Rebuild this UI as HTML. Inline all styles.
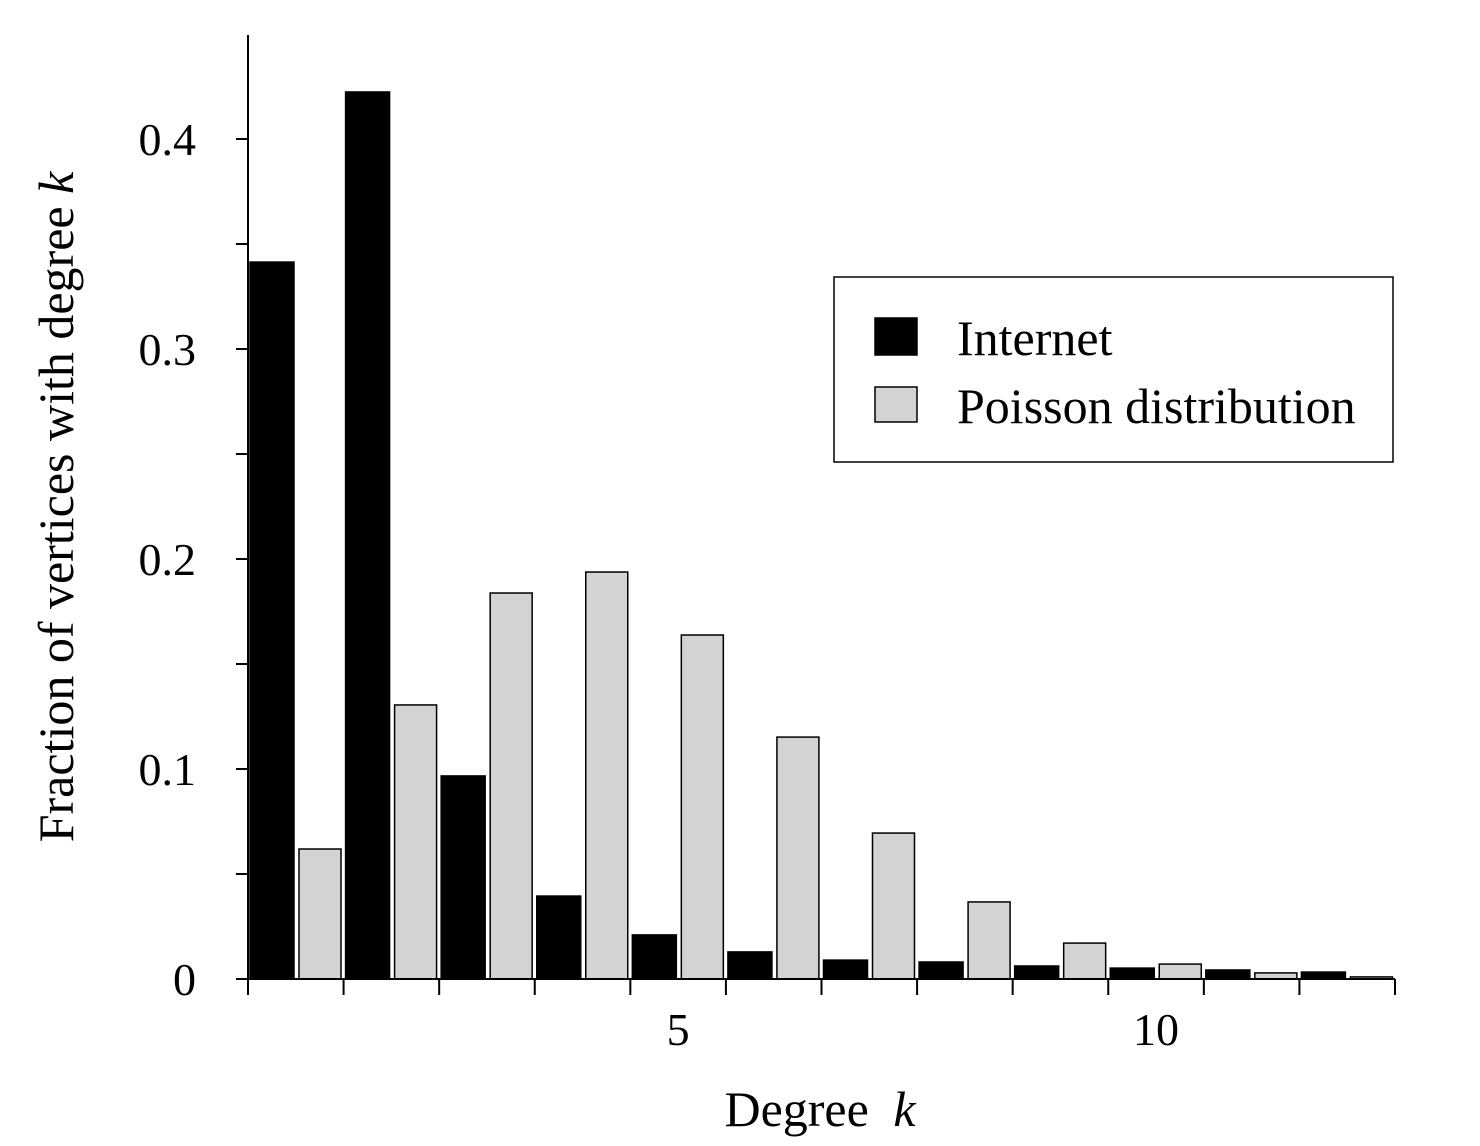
<!DOCTYPE html>
<html><head><meta charset="utf-8"><style>
html,body{margin:0;padding:0;background:#fff;}
svg{display:block;font-family:"Liberation Serif",serif;}
</style></head><body>
<svg id="chart" width="1480" height="1146" viewBox="0 0 1480 1146" xmlns="http://www.w3.org/2000/svg">
<g id="plot"></g>
<g>
<rect x="834" y="277" width="559" height="185" fill="#fff" stroke="#000" stroke-width="1.5"/>
<g>
<rect x="875" y="318" width="42" height="37" fill="#000" stroke="#000" stroke-width="1.5"/>
<text x="957" y="355" font-size="50">Internet</text>
</g>
<g>
<rect x="875" y="387" width="42" height="35" fill="#d3d3d3" stroke="#000" stroke-width="1.5"/>
<text x="957" y="423" font-size="50">Poisson distribution</text>
</g>
</g>
<text transform="translate(73,507) rotate(-90)" text-anchor="middle" font-size="50">Fraction of vertices with degree <tspan font-style="italic">k</tspan></text>
<text x="820" y="1126" text-anchor="middle" font-size="50">Degree <tspan dx="12" font-style="italic">k</tspan></text>
</svg>
<script>
const degrees = [1,2,3,4,5,6,7,8,9,10,11,12];
const internetValues = [0.3414,0.4224,0.0967,0.0395,0.0210,0.0129,0.0090,0.0081,0.0062,0.0052,0.0043,0.0033];
const poissonValues = [0.0619,0.1305,0.1838,0.1938,0.1638,0.1152,0.0695,0.0367,0.0171,0.0071,0.0029,0.0010];
const yTickValues = [0,0.1,0.2,0.3,0.4];
const yTickLabels = ["0","0.1","0.2","0.3","0.4"];
const yMinorTicks = [0.05,0.15,0.25,0.35];
const xTickLabelValues = [5,10];

const NS = "http://www.w3.org/2000/svg";
const plot = document.getElementById('plot');
const X0 = 248, X1 = 1395, Y0 = 979, PX_PER_UNIT = 2100;
const slot = (X1 - X0) / degrees.length;
const yScale = v => Y0 - v * PX_PER_UNIT;
const xStart = i => X0 + i * slot;
function mk(tag, attrs){const e=document.createElementNS(NS,tag);for(const k in attrs)e.setAttribute(k,attrs[k]);plot.appendChild(e);return e;}

degrees.forEach((d,i)=>{
  const x = xStart(i);
  let b = mk('rect',{x:x+2,y:yScale(internetValues[i]),width:44,height:Y0-yScale(internetValues[i]),fill:'#000',stroke:'#000','stroke-width':1.5});
  
  
  let g = mk('rect',{x:x+51,y:yScale(poissonValues[i]),width:42,height:Y0-yScale(poissonValues[i]),fill:'#d3d3d3',stroke:'#000','stroke-width':1.5});
  
  
});

let ya = mk('line',{x1:X0,y1:35,x2:X0,y2:Y0,stroke:'#000','stroke-width':2});


let xa = mk('line',{x1:X0,y1:Y0,x2:X1,y2:Y0,stroke:'#000','stroke-width':2});



yTickValues.forEach((v,i)=>{
  const y=yScale(v);
  let t=mk('line',{x1:X0-12,y1:y,x2:X0,y2:y,stroke:'#000','stroke-width':2});
  
  
  let l=mk('text',{x:196,y:y+16,'text-anchor':'end','font-size':46});
  l.textContent=yTickLabels[i];
  
  
});
yMinorTicks.forEach(v=>{
  const y=yScale(v);
  let t=mk('line',{x1:X0-12,y1:y,x2:X0,y2:y,stroke:'#000','stroke-width':2});
  
  
});
for(let i=0;i<=degrees.length;i++){
  const x=xStart(i);
  let t=mk('line',{x1:x,y1:Y0,x2:x,y2:Y0+16,stroke:'#000','stroke-width':2});
  
  
}
xTickLabelValues.forEach(v=>{
  const i=degrees.indexOf(v);
  let l=mk('text',{x:xStart(i)+slot/2,y:1045,'text-anchor':'middle','font-size':46});
  l.textContent=String(v);
  
  
});
</script>
</body></html>
